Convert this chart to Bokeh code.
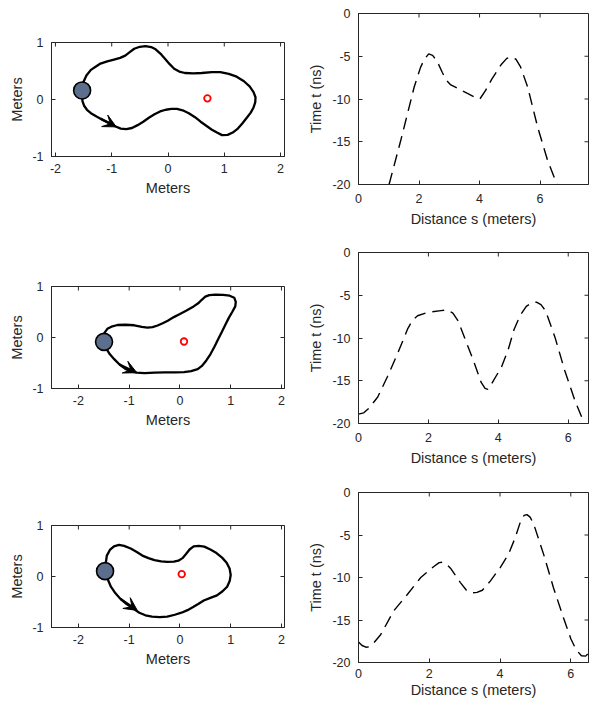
import math
from bokeh.plotting import figure
from bokeh.layouts import column, row
from bokeh.models import FixedTicker, Arrow, VeeHead, Range1d, CustomJSTickFormatter
from bokeh.embed import file_html
from bokeh.resources import INLINE

# ---------------- data: left column (closed paths in meters) ----------------
shape1_x = [-1.526, -1.50, -1.45, -1.37, -1.28, -1.20, -1.08, -0.96, -0.85, -0.76, -0.68,
            -0.60, -0.50, -0.40, -0.30, -0.22, -0.12, -0.05, 0.03, 0.11, 0.20, 0.30, 0.45,
            0.60, 0.78, 0.93, 1.08, 1.22, 1.35, 1.45, 1.52, 1.555, 1.55, 1.52, 1.47, 1.40,
            1.32, 1.23, 1.15, 1.06, 0.96, 0.87, 0.78, 0.68, 0.58, 0.48, 0.37, 0.26, 0.16,
            0.06, -0.04, -0.14, -0.24, -0.34, -0.44, -0.54, -0.64, -0.74, -0.84, -0.94,
            -1.05, -1.16, -1.27, -1.37, -1.44, -1.49, -1.52, -1.526]
shape1_y = [0.159, 0.31, 0.42, 0.52, 0.58, 0.63, 0.67, 0.70, 0.73, 0.77, 0.83,
            0.89, 0.925, 0.935, 0.92, 0.88, 0.79, 0.71, 0.62, 0.54, 0.49, 0.465, 0.46,
            0.465, 0.48, 0.48, 0.45, 0.40, 0.32, 0.23, 0.13, 0.04, -0.05, -0.14, -0.23, -0.32,
            -0.42, -0.52, -0.58, -0.62, -0.625, -0.58, -0.53, -0.46, -0.39, -0.31, -0.24, -0.19, -0.165,
            -0.165, -0.18, -0.21, -0.26, -0.32, -0.39, -0.45, -0.50, -0.52, -0.51, -0.47,
            -0.41, -0.36, -0.30, -0.24, -0.18, -0.11, -0.03, 0.159]
antenna1 = [-1.526, 0.159]
target1 = [0.70, 0.02]
arrow1 = [-1.20, -0.335, -0.92, -0.48]

shape2_x = [-1.495, -1.50, -1.43, -1.33, -1.23, -1.07, -0.90, -0.75, -0.64, -0.54, -0.44,
            -0.34, -0.24, -0.12, 0.00, 0.13, 0.27, 0.36, 0.43, 0.50, 0.58, 0.70, 0.85, 0.98,
            1.07, 1.10, 1.09, 1.03, 0.96, 0.89, 0.82, 0.75, 0.68, 0.60, 0.52, 0.44, 0.35,
            0.22, 0.08, -0.10, -0.30, -0.50, -0.70, -0.85, -0.97, -1.08, -1.19, -1.29,
            -1.38, -1.45, -1.495]
shape2_y = [-0.085, 0.07, 0.17, 0.22, 0.245, 0.25, 0.24, 0.21, 0.195, 0.205, 0.235,
            0.28, 0.33, 0.40, 0.46, 0.53, 0.61, 0.67, 0.74, 0.80, 0.83, 0.84, 0.835, 0.82,
            0.78, 0.70, 0.61, 0.50, 0.38, 0.24, 0.10, -0.04, -0.18, -0.33, -0.45, -0.55, -0.62,
            -0.66, -0.68, -0.685, -0.685, -0.69, -0.70, -0.69, -0.665, -0.61, -0.53, -0.43,
            -0.33, -0.22, -0.085]
antenna2 = [-1.495, -0.085]
target2 = [0.08, -0.078]
arrow2 = [-1.19, -0.53, -0.85, -0.69]

shape3_x = [-1.475, -1.46, -1.44, -1.38, -1.30, -1.20, -1.10, -0.97, -0.85, -0.74, -0.62,
            -0.50, -0.37, -0.25, -0.12, -0.03, 0.05, 0.12, 0.19, 0.27, 0.37, 0.48, 0.60,
            0.72, 0.83, 0.92, 0.98, 1.00, 0.98, 0.93, 0.84, 0.73, 0.60, 0.47, 0.36, 0.26,
            0.15, 0.03, -0.10, -0.25, -0.40, -0.55, -0.68, -0.80, -0.92, -1.05, -1.17,
            -1.27, -1.36, -1.42, -1.475]
shape3_y = [0.105, 0.27, 0.41, 0.52, 0.59, 0.62, 0.60, 0.55, 0.48, 0.41, 0.36,
            0.32, 0.295, 0.285, 0.29, 0.31, 0.36, 0.44, 0.53, 0.59, 0.60, 0.585, 0.53,
            0.46, 0.37, 0.27, 0.15, 0.03, -0.09, -0.20, -0.29, -0.37, -0.42, -0.47, -0.54, -0.60,
            -0.66, -0.71, -0.75, -0.785, -0.795, -0.785, -0.76, -0.71, -0.63, -0.54, -0.44,
            -0.33, -0.20, -0.06, 0.105]
antenna3 = [-1.475, 0.105]
target3 = [0.035, 0.046]
arrow3 = [-1.17, -0.44, -0.84, -0.665]

# ---------------- data: right column (time vs distance) ----------------
s1 = [1.01, 1.40, 1.84, 2.05, 2.17, 2.32, 2.45, 2.60, 2.77, 2.90, 3.05, 3.20, 3.60,
      3.85, 4.01, 4.20, 4.40, 4.71, 4.90, 5.04, 5.20, 5.35, 5.59, 5.92, 6.25, 6.56]
t1 = [-20.0, -14.8, -8.6, -6.3, -5.4, -4.72, -4.9, -5.6, -6.9, -7.8, -8.35, -8.6, -9.35,
      -9.8, -10.0, -9.0, -7.7, -6.0, -5.25, -5.1, -5.35, -6.2, -8.6, -13.3, -17.2, -20.0]

s2 = [0.0, 0.15, 0.30, 0.55, 0.83, 1.12, 1.41, 1.55, 1.69, 1.98, 2.36, 2.55, 2.70, 2.85,
      3.03, 3.32, 3.51, 3.62, 3.70, 3.80, 4.09, 4.28, 4.45, 4.62, 4.80, 4.95, 5.09, 5.22,
      5.35, 5.62, 5.90, 6.19, 6.46]
t2 = [-18.9, -18.75, -18.2, -16.9, -14.5, -11.8, -8.9, -7.9, -7.4, -7.0, -6.8, -6.7, -7.1,
      -8.0, -9.9, -13.0, -15.2, -15.9, -16.0, -15.4, -13.4, -11.4, -9.0, -7.4, -6.3, -5.9,
      -5.8, -6.1, -6.8, -9.9, -13.8, -17.3, -20.0]

s3 = [0.0, 0.10, 0.21, 0.30, 0.39, 0.63, 1.00, 1.38, 1.76, 2.13, 2.28, 2.37, 2.47, 2.60,
      2.88, 3.05, 3.20, 3.35, 3.50, 3.73, 4.01, 4.24, 4.43, 4.58, 4.68, 4.76, 4.85, 4.95,
      5.23, 5.51, 5.79, 6.00, 6.15, 6.30, 6.42, 6.50, 6.56]
t3 = [-17.6, -18.0, -18.2, -18.15, -17.9, -16.7, -13.9, -12.0, -10.0, -8.7, -8.25, -8.2,
      -8.35, -8.9, -10.6, -11.5, -11.8, -11.75, -11.5, -10.4, -8.8, -7.25, -5.3, -3.4, -2.7,
      -2.6, -2.9, -3.7, -7.25, -11.2, -14.7, -17.2, -18.5, -19.2, -19.25, -18.9, -18.4]

left_xticks = [-2, -1, 0, 1, 2]
left_yticks = [-1, 0, 1]
right_xticks = [0, 2, 4, 6]
right_yticks = [-20, -15, -10, -5, 0]

FONT = "Liberation Sans"
TXT = "#262626"
TICK_LEN = 8  # px, half drawn inside the frame for mirrored box ticks


def style(p, xticks, yticks, xlabel, ylabel, xstand, ystand):
    p.xgrid.visible = False
    p.ygrid.visible = False
    p.outline_line_color = TXT
    p.outline_line_width = 1
    p.background_fill_color = "white"
    p.border_fill_color = "white"
    for ax, ticks, lab in ((p.xaxis[0], xticks, xlabel), (p.yaxis[0], yticks, ylabel)):
        ax.ticker = FixedTicker(ticks=ticks)
        ax.formatter = CustomJSTickFormatter(code="return String(tick);")
        ax.axis_label = lab
        ax.axis_label_text_font = FONT
        ax.axis_label_text_font_style = "normal"
        ax.axis_label_text_font_size = "14.5px"
        ax.axis_label_text_color = TXT
        ax.major_label_text_font = FONT
        ax.major_label_text_font_size = "12.5px"
        ax.major_label_text_color = TXT
        ax.axis_line_color = TXT
        ax.major_tick_line_color = TXT
        ax.major_tick_in = 4
        ax.major_tick_out = 0
        ax.minor_tick_line_color = None
    p.xaxis[0].major_label_standoff = xstand[0]
    p.xaxis[0].axis_label_standoff = xstand[1]
    p.yaxis[0].major_label_standoff = 8
    p.yaxis[0].axis_label_standoff = ystand
    # mirrored inward ticks on the top and right edges of the box
    xr, yr = p.x_range, p.y_range
    p.scatter(xticks, [yr.end] * len(xticks), marker="dash", angle=math.pi / 2,
              size=TICK_LEN, line_color=TXT, line_width=1)
    p.scatter([xr.end] * len(yticks), yticks, marker="dash",
              size=TICK_LEN, line_color=TXT, line_width=1)


def shape_fig(xs, ys, ant, tgt, arr, xr, height, top, bottom):
    p = figure(width=300, height=height, x_range=Range1d(*xr), y_range=Range1d(-1, 1),
               output_backend="svg", toolbar_location=None, frame_align=False,
               min_border_left=51, min_border_right=16,
               min_border_top=top, min_border_bottom=bottom)
    style(p, left_xticks, left_yticks, "Meters", "Meters", (7, 4), 4)
    p.line(xs, ys, line_color="black", line_width=2.3, line_join="round")
    p.add_layout(Arrow(end=VeeHead(size=13, fill_color="black", line_color="black",
                                   line_width=1),
                       x_start=arr[0], y_start=arr[1], x_end=arr[2], y_end=arr[3],
                       line_color="black", line_width=2.3))
    p.scatter([ant[0]], [ant[1]], size=17, fill_color="#5b6e8c",
              line_color="black", line_width=1.6)
    p.scatter([tgt[0]], [tgt[1]], size=6.5, fill_color="white",
              line_color="#ff0000", line_width=1.8)
    return p


def time_fig(s, t, xr, height, top, bottom, xstand=(9, 5)):
    p = figure(width=292, height=height, x_range=Range1d(*xr), y_range=Range1d(-20, 0),
               output_backend="svg", toolbar_location=None, frame_align=False,
               min_border_left=58, min_border_right=4,
               min_border_top=top, min_border_bottom=bottom)
    style(p, right_xticks, right_yticks, "Distance s (meters)", "Time t (ns)", xstand, 5)
    p.line(s, t, line_color="black", line_width=1.4, line_dash="12 7")
    return p


a = shape_fig(shape1_x, shape1_y, antenna1, target1, arrow1, (-2.07, 2.07), 240, 42, 84)
b = time_fig(s1, t1, (0, 7.6), 240, 13, 56)
c = shape_fig(shape2_x, shape2_y, antenna2, target2, arrow2, (-2.53, 2.06), 240, 46, 92)
d = time_fig(s2, t2, (0, 6.58), 240, 12, 57)
e = shape_fig(shape3_x, shape3_y, antenna3, target3, arrow3, (-2.53, 2.06), 222, 45, 75)
f = time_fig(s3, t3, (0, 6.5), 222, 12, 40, xstand=(6, 1))

layout = column(row(a, b), row(c, d), row(e, f))
open("out.html", "w").write(file_html(layout, INLINE))
